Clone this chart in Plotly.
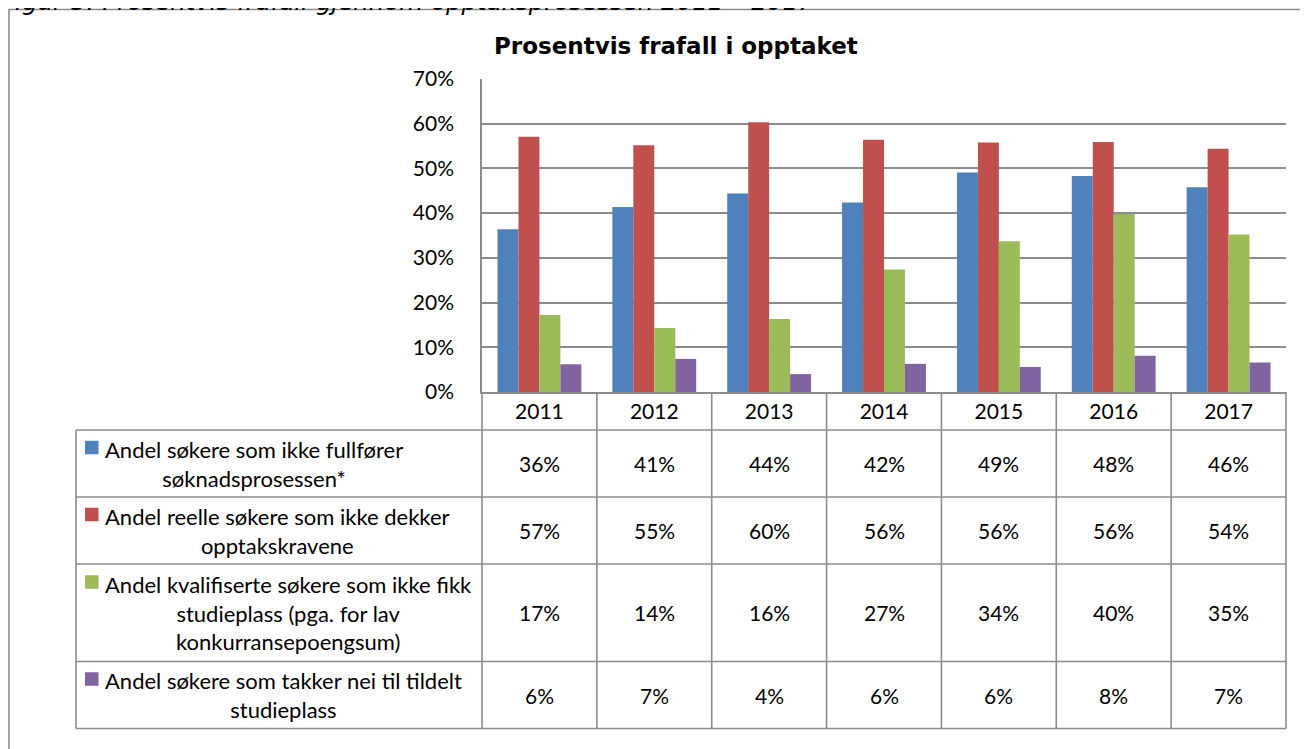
import plotly.graph_objects as go

# data
years = ["2011", "2012", "2013", "2014", "2015", "2016", "2017"]
ikke_fullfort = [36.4, 41.4, 44.4, 42.4, 49.1, 48.3, 45.8]
ikke_krav = [57.1, 55.2, 60.3, 56.4, 55.8, 55.9, 54.4]
ikke_plass = [17.2, 14.3, 16.3, 27.4, 33.7, 39.8, 35.2]
takker_nei = [6.2, 7.4, 4.0, 6.3, 5.6, 8.1, 6.6]

series_values = [ikke_fullfort, ikke_krav, ikke_plass, takker_nei]
series_labels = [
    ["Andel søkere som ikke fullfører", "søknadsprosessen*"],
    ["Andel reelle søkere som ikke dekker", "opptakskravene"],
    ["Andel kvalifiserte søkere som ikke fikk", "studieplass (pga. for lav", "konkurransepoengsum)"],
    ["Andel søkere som takker nei til tildelt", "studieplass"],
]
colors = ["#4F81BD", "#C0504D", "#9BBB59", "#8064A2"]

title = "Prosentvis frafall i opptaket"
caption = "Figur 5: Prosentvis frafall gjennom opptaksprosessen 2011 – 2017"

# page geometry in pixels (as seen in the browser window)
W, H = 1308, 749
OFFSET = 8  # default body margin of the html page
PLOT_L, PLOT_R, PLOT_T, PLOT_B = 482, 1286, 79, 392
TABLE_L = 76
HEADER_H = 38
LINE_H = 29.5
FONT = "Lato"
FONT_SIZE = 21
GRID = "#8c8c8c"


def px(x):
    return (x - OFFSET) / W


def py(y):
    return 1 - (y - OFFSET) / H


fig = go.Figure()
for vals, lines, color in zip(series_values, series_labels, colors):
    fig.add_trace(
        go.Bar(
            x=years,
            y=[v / 100 for v in vals],
            name=" ".join(lines),
            marker=dict(color=color, line=dict(width=0)),
        )
    )

shapes = []
annotations = []


def hline(y, x0, x1):
    shapes.append(dict(type="line", xref="paper", yref="paper", x0=px(x0), x1=px(x1),
                       y0=py(y), y1=py(y), line=dict(color=GRID, width=1.6)))


def vline(x, y0, y1):
    shapes.append(dict(type="line", xref="paper", yref="paper", x0=px(x), x1=px(x),
                       y0=py(y0), y1=py(y1), line=dict(color=GRID, width=1.6)))


# table rows
col_w = (PLOT_R - PLOT_L) / len(years)
row_tops = []
y = PLOT_B + HEADER_H
for lines in series_labels:
    row_tops.append(y)
    y += 6 + 30.5 * len(lines)
table_bottom = y

# header row borders
hline(PLOT_B + HEADER_H, TABLE_L, PLOT_R)
for i in range(len(years) + 1):
    vline(PLOT_L + i * col_w, PLOT_B, table_bottom)
vline(TABLE_L, PLOT_B + HEADER_H, table_bottom)

for k, (vals, lines, color) in enumerate(zip(series_values, series_labels, colors)):
    top = row_tops[k]
    bottom = row_tops[k + 1] if k + 1 < len(row_tops) else table_bottom
    mid = (top + bottom) / 2
    hline(bottom, TABLE_L, PLOT_R)
    first_line = mid - (len(lines) - 1) * LINE_H / 2
    shapes.append(dict(type="rect", xref="paper", yref="paper",
                       x0=px(85), x1=px(98.5), y0=py(first_line - 8), y1=py(first_line + 5.5),
                       fillcolor=color, line=dict(width=0)))
    annotations.append(dict(xref="paper", yref="paper", x=px(103), y=py(mid),
                            xanchor="left", yanchor="middle", align="center",
                            text="<br>".join(lines), showarrow=False,
                            font=dict(family=FONT, size=22, color="black")))
    for i, v in enumerate(vals):
        annotations.append(dict(xref="x", yref="paper", x=i, y=py(mid),
                                xanchor="center", yanchor="middle",
                                text=f"{round(v):d}%", showarrow=False,
                                font=dict(family=FONT, size=FONT_SIZE, color="black")))

# outer frame and caption (the caption is cut by the top edge, as in the original)
shapes.append(dict(type="rect", xref="paper", yref="paper", x0=px(9), x1=px(W + 30),
                   y0=py(H + 30), y1=py(9.5), line=dict(color="#8c8c8c", width=1.6)))
annotations.append(dict(xref="paper", yref="paper", x=px(-1), y=py(2), xanchor="left",
                        yanchor="middle", text=f"<i>{caption}</i>", showarrow=False,
                        font=dict(family="DejaVu Sans", size=24.5, color="black")))
annotations.append(dict(xref="paper", yref="paper", x=px(676), y=py(46), xanchor="center",
                        yanchor="middle", text=f"<b>{title}</b>", showarrow=False,
                        font=dict(family="DejaVu Sans", size=23, color="black")))

fig.update_layout(
    width=W,
    height=H,
    margin=dict(l=0, r=0, t=0, b=0, pad=0),
    paper_bgcolor="white",
    plot_bgcolor="white",
    showlegend=False,
    bargap=0.27,
    bargroupgap=0,
    shapes=shapes,
    annotations=annotations,
    font=dict(family=FONT, size=FONT_SIZE, color="black"),
)
fig.update_xaxes(
    type="category",
    range=[-0.5, len(years) - 0.5],
    automargin=False,
    domain=[px(PLOT_L), px(PLOT_R)],
    showgrid=False,
    showline=True,
    linecolor=GRID,
    linewidth=1.6,
    ticks="",
    ticklabelstandoff=0,
    tickfont=dict(family=FONT, size=FONT_SIZE, color="black"),
)
fig.update_yaxes(
    automargin=False,
    domain=[py(PLOT_B), py(PLOT_T)],
    range=[0, 0.7],
    dtick=0.1,
    tickformat=".0%",
    showgrid=True,
    gridcolor=GRID,
    gridwidth=1.6,
    zeroline=False,
    showline=True,
    linecolor=GRID,
    linewidth=1.6,
    ticks="",
    ticklabelstandoff=22,
    tickfont=dict(family=FONT, size=FONT_SIZE, color="black"),
)

fig.write_html("out.html")
